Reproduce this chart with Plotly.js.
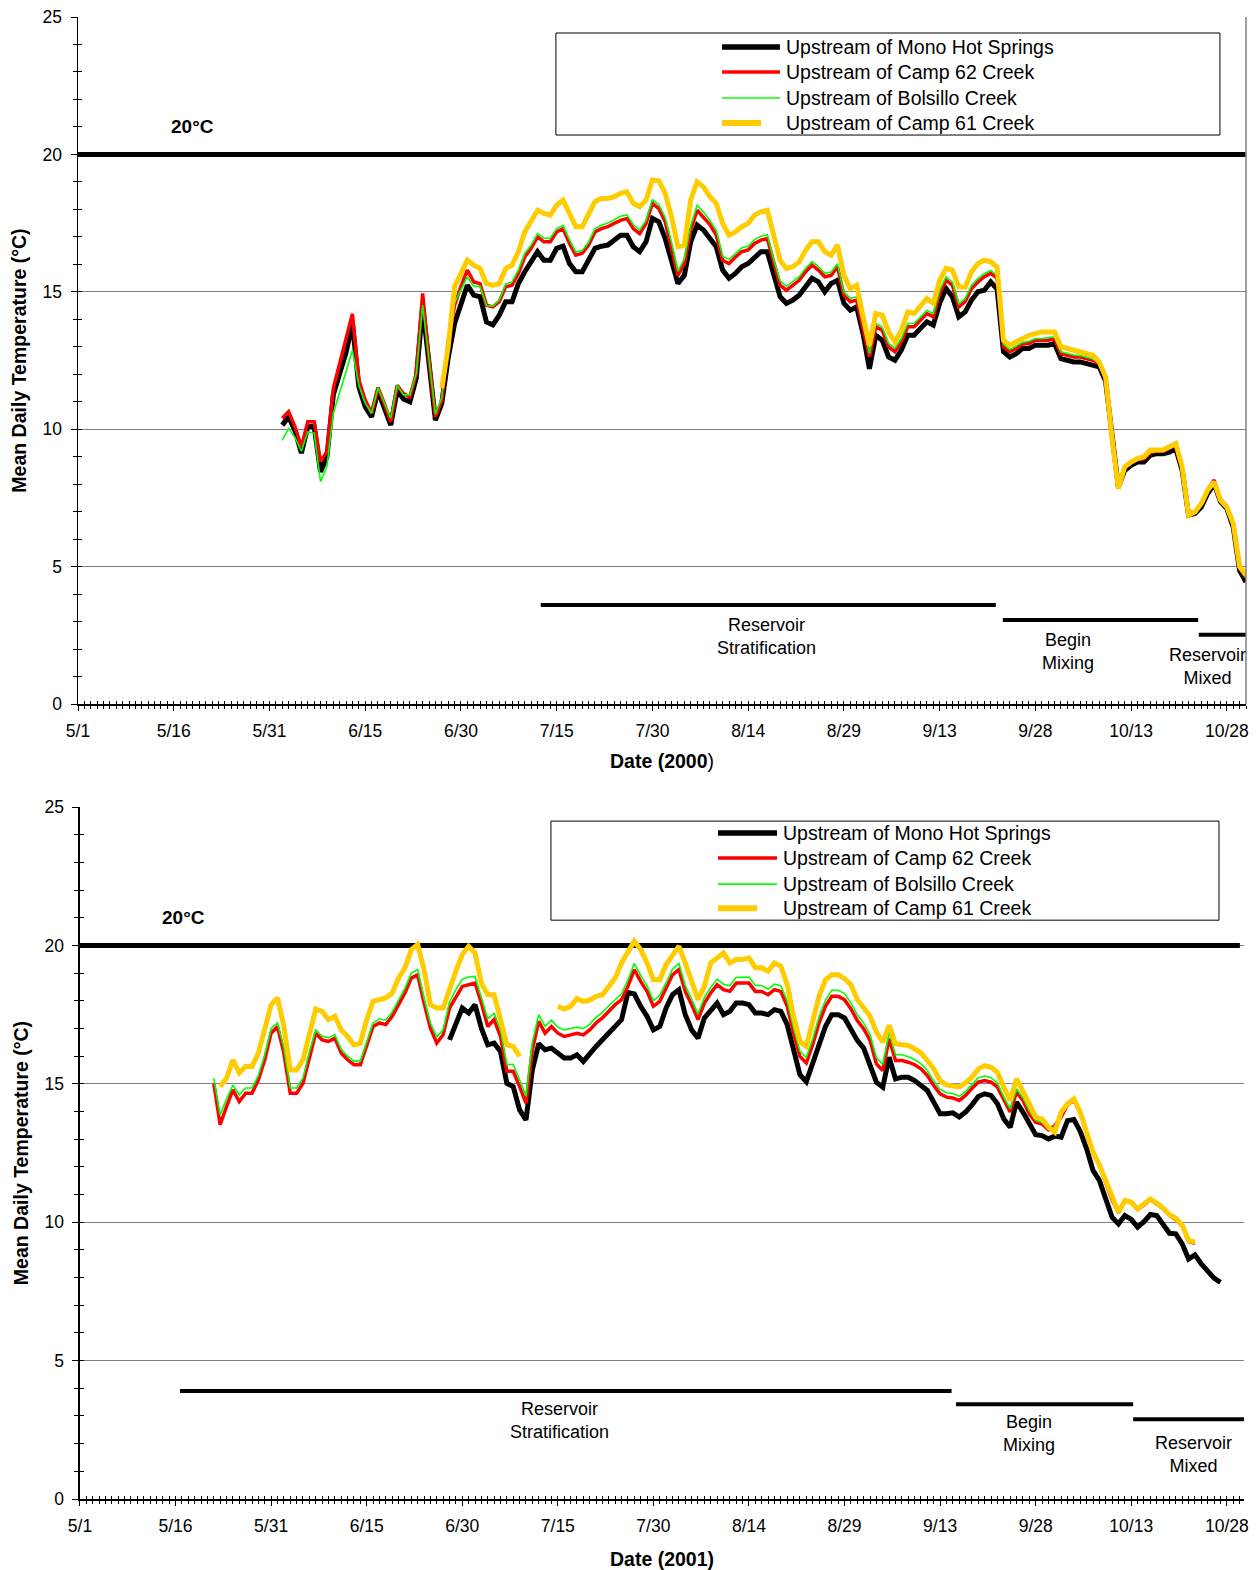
<!DOCTYPE html>
<html>
<head>
<meta charset="utf-8">
<script src="https://cdn.plot.ly/plotly-3.0.1.min.js"></script>
<style>
  html, body { margin: 0; padding: 0; background: #ffffff; }
  #chart { width: 1259px; height: 1570px; }
</style>
</head>
<body>
<div id="chart"></div>
<script>
// ---- Axis labels (day 0 = May 1) ----
const tickDays = [0, 15, 30, 45, 60, 75, 90, 105, 120, 135, 150, 165, 180];
const tickLabels = ['5/1', '5/16', '5/31', '6/15', '6/30', '7/15', '7/30', '8/14', '8/29', '9/13', '9/28', '10/13', '10/28'];
const seriesNames = ['Upstream of Mono Hot Springs', 'Upstream of Camp 62 Creek', 'Upstream of Bolsillo Creek', 'Upstream of Camp 61 Creek'];
const criterionTemp = 20;

// ---- 2000 mean daily temperatures (°C), first value on day `...Start` ----
const mono2000Start = 32;
const mono2000 = [
  10.15, 10.45, 9.95, 9.13, 10.1, 10.1, 8.45, 9.0, 11.25, 12.0,
  12.8, 13.85, 11.55, 10.82, 10.45, 11.4, 10.8, 10.15, 11.4, 11.1,
  11.0, 11.85, 14.46, 12.27, 10.33, 10.94, 12.6, 13.85, 14.6, 15.24,
  14.88, 14.82, 13.9, 13.8, 14.15, 14.64, 14.64, 15.3, 15.73, 16.09,
  16.46, 16.15, 16.15, 16.58, 16.66, 16.03, 15.73, 15.73, 16.15, 16.58,
  16.66, 16.7, 16.88, 17.06, 17.06, 16.64, 16.46, 16.82, 17.67, 17.55,
  16.94, 16.15, 15.3, 15.6, 16.82, 17.43, 17.25, 16.94, 16.64, 15.79,
  15.49, 15.67, 15.91, 16.03, 16.27, 16.46, 16.46, 15.67, 14.82, 14.58,
  14.7, 14.88, 15.18, 15.49, 15.36, 15.0, 15.3, 15.42, 14.58, 14.33,
  14.45, 13.48, 12.2, 13.42, 13.24, 12.63, 12.51, 12.88, 13.42, 13.42,
  13.67, 13.91, 13.79, 14.58, 15.12, 14.82, 14.09, 14.27, 14.7, 15.0,
  15.06, 15.36, 15.1, 12.82, 12.63, 12.75, 12.94, 12.94, 13.06, 13.06,
  13.06, 13.12, 12.57, 12.51, 12.45, 12.45, 12.39, 12.33, 12.27, 11.75,
  9.7, 7.9, 8.5, 8.69, 8.81, 8.81, 9.05, 9.11, 9.11, 9.17,
  9.3, 8.5, 6.87, 6.93, 7.17, 7.66, 8.02, 7.36, 7.11, 6.44,
  4.86, 4.44
];
const camp62_2000Start = 32;
const camp62_2000 = [
  10.4, 10.64, 10.09, 9.36, 10.27, 10.27, 8.82, 9.18, 11.49, 12.4,
  13.2, 14.2, 11.79, 11.06, 10.58, 11.52, 10.93, 10.27, 11.6, 11.3,
  11.17, 12.03, 14.94, 12.52, 10.45, 11.06, 13.2, 14.5, 15.2, 15.79,
  15.36, 15.3, 14.51, 14.45, 14.64, 15.18, 15.24, 15.67, 16.27, 16.58,
  17.0, 16.82, 16.82, 17.18, 17.3, 16.76, 16.33, 16.4, 16.7, 17.18,
  17.3, 17.37, 17.49, 17.6, 17.67, 17.3, 17.12, 17.49, 18.22, 18.03,
  17.55, 16.64, 15.6, 16.03, 17.25, 17.97, 17.73, 17.45, 17.06, 16.15,
  16.03, 16.27, 16.46, 16.52, 16.76, 16.88, 16.94, 16.03, 15.24, 15.06,
  15.24, 15.42, 15.73, 15.97, 15.79, 15.55, 15.6, 15.91, 14.88, 14.64,
  14.7, 13.73, 12.63, 13.73, 13.6, 13.0, 12.82, 13.18, 13.73, 13.73,
  13.97, 14.21, 14.09, 14.94, 15.42, 15.24, 14.45, 14.64, 15.12, 15.36,
  15.55, 15.67, 15.5, 13.0, 12.82, 12.94, 13.1, 13.12, 13.24, 13.24,
  13.24, 13.3, 12.75, 12.69, 12.63, 12.63, 12.57, 12.51, 12.4, 11.85,
  9.75, 8.0, 8.6, 8.78, 8.9, 8.92, 9.15, 9.2, 9.2, 9.3,
  9.42, 8.6, 6.95, 7.0, 7.3, 7.8, 8.15, 7.45, 7.2, 6.55,
  4.95, 4.6
];
const bolsillo2000Start = 32;
const bolsillo2000 = [
  9.6, 10.03, 9.7, 9.2, 9.9, 9.86, 8.09, 8.64, 10.58, 11.3,
  12.1, 12.88, 11.6, 10.95, 10.58, 11.52, 10.95, 10.4, 11.6, 11.25,
  11.25, 12.03, 14.52, 12.52, 10.55, 11.15, 13.4, 14.6, 15.1, 15.55,
  15.2, 15.2, 14.5, 14.48, 14.7, 15.28, 15.36, 15.8, 16.4, 16.7,
  17.12, 16.95, 16.95, 17.3, 17.42, 16.9, 16.45, 16.5, 16.8, 17.3,
  17.42, 17.5, 17.62, 17.75, 17.8, 17.45, 17.25, 17.6, 18.35, 18.18,
  17.7, 16.8, 15.75, 16.2, 17.4, 18.15, 17.9, 17.6, 17.25, 16.3,
  16.18, 16.4, 16.6, 16.66, 16.9, 17.02, 17.08, 16.18, 15.4, 15.2,
  15.36, 15.55, 15.86, 16.1, 15.92, 15.68, 15.72, 16.02, 15.0, 14.76,
  14.82, 13.85, 12.75, 13.85, 13.72, 13.12, 12.95, 13.3, 13.85, 13.85,
  14.08, 14.33, 14.2, 15.05, 15.55, 15.36, 14.56, 14.75, 15.24, 15.48,
  15.66, 15.78, 15.6, 13.1, 12.9, 13.02, 13.16, 13.2, 13.3, 13.3,
  13.32, 13.36, 12.82, 12.76, 12.7, 12.68, 12.62, 12.56, 12.42, 11.88,
  9.78, 8.0, 8.6, 8.78, 8.9, 8.94, 9.15, 9.2, 9.22, 9.3,
  9.42, 8.6, 6.95, 7.0, 7.3, 7.78, 8.12, 7.45, 7.2, 6.55,
  4.95, 4.6
];
const camp61_2000Start = 57;
const camp61_2000 = [
  11.5, 13.0, 15.2, 15.67, 16.15, 15.97, 15.85, 15.3, 15.24, 15.3,
  15.85, 15.97, 16.46, 17.18, 17.6, 17.97, 17.85, 17.79, 18.16, 18.34,
  17.85, 17.37, 17.37, 17.79, 18.28, 18.4, 18.4, 18.46, 18.58, 18.64,
  18.22, 18.1, 18.34, 19.07, 19.04, 18.58, 17.73, 16.64, 16.7, 18.34,
  19.0, 18.82, 18.46, 18.22, 17.49, 17.06, 17.18, 17.37, 17.49, 17.79,
  17.91, 17.97, 17.12, 16.15, 15.85, 15.91, 16.09, 16.52, 16.82, 16.82,
  16.46, 16.33, 16.7, 15.6, 15.12, 15.24, 14.09, 13.06, 14.21, 14.15,
  13.54, 13.18, 13.6, 14.27, 14.21, 14.51, 14.76, 14.58, 15.42, 15.85,
  15.79, 15.18, 15.18, 15.73, 16.03, 16.15, 16.09, 15.9, 13.24, 13.06,
  13.18, 13.3, 13.42, 13.48, 13.54, 13.54, 13.54, 13.0, 12.94, 12.88,
  12.82, 12.75, 12.69, 12.45, 11.9, 9.72, 7.84, 8.63, 8.81, 8.93,
  9.0, 9.24, 9.24, 9.24, 9.36, 9.48, 8.63, 6.87, 6.99, 7.3,
  7.78, 8.08, 7.42, 7.17, 6.57, 5.0, 4.7
];

// ---- 2001 mean daily temperatures (°C) ----
const mono2001Start = 58;
const mono2001 = [
  16.59, 17.2, 17.74, 17.56, 17.86, 17.01, 16.41, 16.47, 16.17, 15.02,
  14.9, 14.06, 13.7, 15.5, 16.45, 16.23, 16.29, 16.11, 15.93, 15.93,
  16.05, 15.81, 16.11, 16.35, 16.59, 16.83, 17.07, 17.32, 18.3, 18.25,
  17.8, 17.44, 16.95, 17.07, 17.74, 18.22, 18.4, 17.5, 16.95, 16.65,
  17.38, 17.68, 17.92, 17.5, 17.62, 17.92, 17.92, 17.86, 17.56, 17.56,
  17.5, 17.68, 17.62, 17.14, 16.23, 15.33, 15.08, 15.75, 16.47, 17.07,
  17.5, 17.5, 17.38, 16.97, 16.57, 16.29, 15.72, 15.06, 14.88, 15.96,
  15.18, 15.24, 15.24, 15.12, 14.94, 14.76, 14.34, 13.92, 13.92, 13.95,
  13.8, 13.98, 14.24, 14.54, 14.64, 14.58, 14.28, 13.73, 13.43, 14.34,
  13.98, 13.55, 13.16, 13.13, 13.01, 13.11, 13.07, 13.67, 13.71, 13.28,
  12.65, 11.87, 11.51, 10.84, 10.18, 9.94, 10.24, 10.1, 9.82, 10.02,
  10.28, 10.24, 9.94, 9.6, 9.58, 9.22, 8.67, 8.82, 8.49, 8.22,
  7.98, 7.83
];
const camp62_2001Start = 21;
const camp62_2001 = [
  15.02, 13.52, 14.18, 14.78, 14.36, 14.66, 14.66, 15.14, 15.87, 16.83,
  17.07, 16.11, 14.66, 14.66, 15.02, 15.99, 16.83, 16.59, 16.53, 16.65,
  16.11, 15.87, 15.69, 15.69, 16.35, 17.07, 17.2, 17.14, 17.44, 17.86,
  18.28, 18.82, 18.94, 17.92, 17.01, 16.47, 16.77, 17.74, 18.16, 18.52,
  18.58, 18.64, 17.92, 17.07, 17.32, 16.71, 15.45, 15.45, 14.9, 14.3,
  16.23, 17.26, 16.83, 17.07, 16.83, 16.71, 16.77, 16.83, 16.77, 16.95,
  17.2, 17.38, 17.62, 17.86, 18.04, 18.52, 19.13, 18.7, 18.34, 17.8,
  17.98, 18.46, 18.94, 19.13, 18.34, 17.86, 17.32, 17.92, 18.28, 18.58,
  18.4, 18.34, 18.64, 18.64, 18.64, 18.34, 18.34, 18.22, 18.4, 18.34,
  17.8, 16.83, 15.99, 15.75, 16.41, 17.2, 17.8, 18.16, 18.16, 18.04,
  17.71, 17.29, 16.99, 16.57, 15.72, 15.48, 16.63, 15.84, 15.84, 15.78,
  15.69, 15.54, 15.3, 14.94, 14.64, 14.52, 14.49, 14.4, 14.58, 14.84,
  15.06, 15.12, 15.06, 14.88, 14.4, 13.98, 14.7, 14.4, 13.92, 13.61,
  13.55, 13.34, 13.49, 13.8, 14.25, 14.4, 13.95, 13.22, 12.5, 12.04,
  11.44, 10.8, 10.34, 10.8, 10.74, 10.46, 10.62, 10.82, 10.66, 10.48,
  10.25, 10.1, 9.86, 9.3, 9.24
];
const bolsillo2001Start = 21;
const bolsillo2001 = [
  15.2, 13.88, 14.45, 14.95, 14.6, 14.85, 14.85, 15.3, 16.05, 17.0,
  17.2, 16.3, 14.85, 14.85, 15.2, 16.15, 16.95, 16.72, 16.66, 16.78,
  16.25, 16.0, 15.82, 15.82, 16.5, 17.2, 17.35, 17.3, 17.6, 18.02,
  18.45, 19.0, 19.12, 18.1, 17.2, 16.7, 16.95, 17.95, 18.4, 18.78,
  18.86, 18.88, 18.15, 17.35, 17.55, 16.95, 15.7, 15.7, 15.15, 14.55,
  16.5, 17.5, 17.08, 17.3, 17.05, 16.95, 17.0, 17.05, 17.0, 17.15,
  17.4, 17.58, 17.82, 18.05, 18.25, 18.75, 19.35, 18.92, 18.55, 18.0,
  18.2, 18.66, 19.14, 19.35, 18.55, 18.06, 17.52, 18.12, 18.48, 18.78,
  18.6, 18.55, 18.85, 18.85, 18.86, 18.55, 18.55, 18.42, 18.6, 18.55,
  18.0, 17.02, 16.18, 15.95, 16.62, 17.42, 18.02, 18.38, 18.38, 18.26,
  17.92, 17.5, 17.2, 16.78, 15.95, 15.7, 16.85, 16.05, 16.05, 15.98,
  15.88, 15.72, 15.48, 15.1, 14.8, 14.68, 14.65, 14.55, 14.72, 14.98,
  15.22, 15.28, 15.22, 15.02, 14.52, 14.1, 14.82, 14.5, 14.02, 13.68,
  13.6, 13.38, 13.45, 13.85, 14.28, 14.43, 13.97, 13.24, 12.52, 12.06,
  11.46, 10.82, 10.35, 10.78, 10.72, 10.47, 10.63, 10.83, 10.67, 10.5,
  10.26, 10.12, 9.88, 9.32, 9.26
];
const camp61_2001Start = 22;
const camp61_2001 = [
  14.9, 15.2, 15.87, 15.39, 15.63, 15.63, 16.11, 16.95, 17.86, 18.1,
  17.07, 15.5, 15.5, 15.87, 16.83, 17.7, 17.62, 17.32, 17.44, 16.95,
  16.71, 16.41, 16.47, 17.32, 17.98, 18.04, 18.1, 18.28, 18.82, 19.19,
  19.85, 20.03, 19.13, 17.86, 17.74, 17.74, 18.46, 19.07, 19.67, 19.97,
  19.73, 18.64, 18.22, 18.22, 17.32, 16.41, 16.35, 15.99, null, null,
  null, null, null, 17.8, 17.7, 17.8, 18.08, 17.98, 18.02, 18.16,
  18.22, 18.52, 18.82, 19.37, 19.79, 20.15, 19.85, 19.37, 18.76, 18.76,
  19.31, 19.61, 19.97, 19.37, 18.76, 18.04, 18.52, 19.37, 19.55, 19.73,
  19.37, 19.49, 19.49, 19.55, 19.19, 19.19, 19.07, 19.37, 19.25, 18.58,
  17.44, 16.53, 16.35, 17.2, 18.16, 18.76, 18.94, 18.94, 18.8, 18.58,
  18.04, 17.75, 17.45, 16.87, 16.51, 17.11, 16.45, 16.41, 16.39, 16.27,
  16.12, 15.84, 15.54, 15.12, 14.96, 14.92, 14.89, 15.04, 15.24, 15.54,
  15.66, 15.6, 15.42, 14.88, 14.4, 15.18, 14.76, 14.28, 13.8, 13.73,
  13.43, 13.25, 13.98, 14.28, 14.46, 13.98, 13.25, 12.53, 12.07, 11.47,
  10.84, 10.36, 10.78, 10.72, 10.48, 10.64, 10.84, 10.69, 10.51, 10.27,
  10.14, 9.9, 9.34, 9.28
];

// ---- Reservoir condition periods (start day, end day) ----
const phaseLabels = ['Reservoir<br>Stratification', 'Begin<br>Mixing', 'Reservoir<br>Mixed'];
const phases2000 = [[72.5, 143.8], [144.9, 175.5], [175.6, 183]];
const phases2001 = [[15.7, 136.8], [137.5, 165.3], [165.3, 182.7]];

// ---- Styling ----
const FONT = 'Arial, "Liberation Sans", Helvetica, sans-serif';
const LINE_STYLE = [
  { color: '#000000', width: 5 },
  { color: '#ff0000', width: 3.5 },
  { color: '#00ff00', width: 1.6 },
  { color: '#ffcc00', width: 5 }
];

function daySpan(start, n) {
  const out = [];
  for (let i = 0; i < n; i++) out.push(start + i);
  return out;
}

function seriesTrace(idx, start, values, xa, ya) {
  return {
    type: 'scatter', mode: 'lines', name: seriesNames[idx],
    x: daySpan(start, values.length), y: values,
    xaxis: xa, yaxis: ya, showlegend: false, hoverinfo: 'skip',
    line: { color: LINE_STYLE[idx].color, width: LINE_STYLE[idx].width, shape: 'linear' }
  };
}

function hLine(x0, x1, yv, xa, ya, width) {
  return {
    type: 'scatter', mode: 'lines', x: [x0, x1], y: [yv, yv],
    xaxis: xa, yaxis: ya, showlegend: false, hoverinfo: 'skip',
    line: { color: '#000000', width: width }
  };
}

// Panel-specific placement of the phase bars and their captions
const panelDefs = [
  {
    xa: 'x', ya: 'y',
    series: [[mono2000Start, mono2000], [camp62_2000Start, camp62_2000], [bolsillo2000Start, bolsillo2000], [camp61_2000Start, camp61_2000]],
    phases: phases2000, barY: [3.6, 3.06, 2.52],
    labelPos: [[107.8, 2.45], [155.1, 1.9], [176.9, 1.38]],
    critEnd: 183, critLabel: [17.9, 21.0],
    legend: { box: [0.4092, 0.9777, 0.8282, 0.9767], rows: [0.9563, 0.9199, 0.8821, 0.8457],
              lineX0: 0.5514, lineX1: [0.6010, 0.6010, 0.6010, 0.5848], textX: 0.6045 }
  },
  {
    xa: 'x2', ya: 'y2',
    series: [[mono2001Start, mono2001], [camp62_2001Start, camp62_2001], [bolsillo2001Start, bolsillo2001], [camp61_2001Start, camp61_2001]],
    phases: phases2001, barY: [3.9, 3.42, 2.88],
    labelPos: [[75.3, 2.84], [148.9, 2.37], [174.8, 1.6]],
    critEnd: 182.05, critLabel: [16.2, 21.0],
    legend: { box: [0.4046, 0.9785, 0.8365, 0.9797], rows: [0.9624, 0.9262, 0.8886, 0.8538],
              lineX0: 0.5481, lineX1: [0.5988, 0.5988, 0.5988, 0.5816], textX: 0.6022 }
  }
];

const traces = [];
const shapes = [];
const annotations = [];

panelDefs.forEach(function (p) {
  // 20 °C criterion line
  traces.push(hLine(0, p.critEnd, criterionTemp, p.xa, p.ya, 5));
  // temperature series
  p.series.forEach(function (s, i) { traces.push(seriesTrace(i, s[0], s[1], p.xa, p.ya)); });
  // reservoir phase bars
  p.phases.forEach(function (ph, i) { traces.push(hLine(ph[0], ph[1], p.barY[i], p.xa, p.ya, 4)); });

  p.phases.forEach(function (ph, i) {
    annotations.push({
      xref: p.xa, yref: p.ya, x: p.labelPos[i][0], y: p.labelPos[i][1],
      text: phaseLabels[i], showarrow: false, xanchor: 'center', yanchor: 'middle',
      align: 'center', font: { family: FONT, size: 18, color: '#000' }
    });
  });
  annotations.push({
    xref: p.xa, yref: p.ya, x: p.critLabel[0], y: p.critLabel[1],
    text: '<b>' + criterionTemp + '°C</b>', showarrow: false, xanchor: 'center', yanchor: 'middle',
    font: { family: FONT, size: 19, color: '#000' }
  });

  // legend box
  const L = p.legend;
  const xd = p.xa + ' domain', yd = p.ya + ' domain';
  shapes.push({ type: 'rect', xref: xd, yref: yd, x0: L.box[0], x1: L.box[1], y0: L.box[2], y1: L.box[3],
                line: { color: '#000000', width: 1 }, fillcolor: '#ffffff', layer: 'above' });
  seriesNames.forEach(function (name, i) {
    shapes.push({ type: 'line', xref: xd, yref: yd, x0: L.lineX0, x1: L.lineX1[i], y0: L.rows[i], y1: L.rows[i],
                  line: { color: LINE_STYLE[i].color, width: i === 3 ? 6 : LINE_STYLE[i].width + (i === 0 ? 0.5 : 0) }, layer: 'above' });
    annotations.push({ xref: xd, yref: yd, x: L.textX, y: L.rows[i], text: name, showarrow: false,
                       xanchor: 'left', yanchor: 'middle', font: { family: FONT, size: 19.5, color: '#000' } });
  });
});

// right-hand frame line of the upper panel
shapes.push({ type: 'line', xref: 'x domain', yref: 'y domain', x0: 1, x1: 1, y0: 0, y1: 1,
              line: { color: '#808080', width: 1.5 }, layer: 'above' });

// empty traces that register the tick-only overlay axes
traces.push({ type: 'scatter', x: [], y: [], xaxis: 'x3', yaxis: 'y', showlegend: false, hoverinfo: 'skip' });
traces.push({ type: 'scatter', x: [], y: [], xaxis: 'x', yaxis: 'y3', showlegend: false, hoverinfo: 'skip' });
traces.push({ type: 'scatter', x: [], y: [], xaxis: 'x4', yaxis: 'y2', showlegend: false, hoverinfo: 'skip' });
traces.push({ type: 'scatter', x: [], y: [], xaxis: 'x2', yaxis: 'y4', showlegend: false, hoverinfo: 'skip' });

const tickFont = { family: FONT, size: 17.5, color: '#000' };
const titleFont = { family: FONT, size: 19.5, color: '#000' };

function dateAxis(domain, anchor, range, title, standoff) {
  return {
    domain: domain, anchor: anchor, range: range, fixedrange: true,
    tickmode: 'array', tickvals: tickDays, ticktext: tickLabels,
    ticks: 'outside', ticklen: 5, tickwidth: 1, tickcolor: '#000',
    minor: { tickmode: 'linear', tick0: 0, dtick: 1, ticks: 'outside', ticklen: 3, tickwidth: 1, tickcolor: '#000' },
    showline: true, linecolor: '#000', linewidth: 1.5, showgrid: false, zeroline: false,
    tickfont: tickFont, ticklabelstandoff: 5,
    title: { text: title, font: titleFont, standoff: standoff }
  };
}
function tempAxis(domain, anchor) {
  return {
    domain: domain, anchor: anchor, range: [0, 25], fixedrange: true,
    tickmode: 'linear', tick0: 0, dtick: 5,
    ticks: 'outside', ticklen: 6, tickwidth: 1, tickcolor: '#000',
    minor: { tickmode: 'linear', tick0: 0, dtick: 1, ticks: 'outside', ticklen: 4, tickwidth: 1, tickcolor: '#000' },
    showline: true, linecolor: '#000', linewidth: 1.5,
    showgrid: true, gridcolor: '#808080', gridwidth: 1, zeroline: false,
    tickfont: tickFont, ticklabelstandoff: 5,
    title: { text: '<b>Mean Daily Temperature (°C)</b>', font: titleFont, standoff: 10 }
  };
}
function innerTicksX(over, anchor, range) {
  return { overlaying: over, anchor: anchor, side: 'bottom', range: range, fixedrange: true,
           tickmode: 'linear', tick0: 0, dtick: 1, ticks: 'inside', ticklen: 3, tickwidth: 1, tickcolor: '#000',
           showticklabels: false, showgrid: false, zeroline: false, showline: false };
}
function innerTicksY(over, anchor) {
  return { overlaying: over, anchor: anchor, side: 'left', range: [0, 25], fixedrange: true,
           tickmode: 'linear', tick0: 0, dtick: 1, ticks: 'inside', ticklen: 4, tickwidth: 1, tickcolor: '#000',
           showticklabels: false, showgrid: false, zeroline: false, showline: false };
}

const layout = {
  width: 1259, height: 1570,
  margin: { l: 78, r: 13, t: 17, b: 71 },
  paper_bgcolor: '#ffffff', plot_bgcolor: '#ffffff',
  font: { family: FONT, color: '#000' },
  showlegend: false,
  xaxis: dateAxis([0, 1], 'y', [0, 183], '<b>Date (2000</b>)', 15),
  yaxis: tempAxis([0.5364, 1], 'x'),
  xaxis2: dateAxis([0.0017, 0.9983], 'y2', [0, 182.7], '<b>Date (2001)</b>', 18),
  yaxis2: tempAxis([0, 0.4669], 'x2'),
  xaxis3: innerTicksX('x', 'y', [0, 183]),
  yaxis3: innerTicksY('y', 'x'),
  xaxis4: innerTicksX('x2', 'y2', [0, 182.7]),
  yaxis4: innerTicksY('y2', 'x2'),
  shapes: shapes,
  annotations: annotations
};

Plotly.newPlot('chart', traces, layout, { staticPlot: true, displayModeBar: false });
</script>
</body>
</html>
